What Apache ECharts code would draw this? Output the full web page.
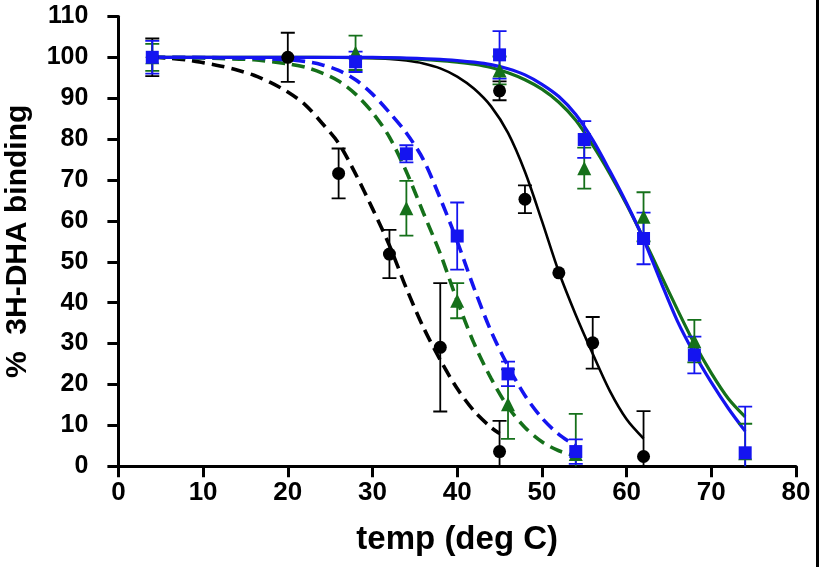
<!DOCTYPE html>
<html>
<head>
<meta charset="utf-8">
<script src="https://cdn.jsdelivr.net/npm/echarts@6/dist/echarts.min.js"></script>
<style>
html,body{margin:0;padding:0;background:#fff;}
#chart{width:819px;height:567px;}
</style>
</head>
<body>
<div id="chart"></div>
<script>
// ---------- measured points (temp, % binding, error) ----------
const blackSolidT = [4, 20, 45, 48, 52, 56, 62];
const blackSolidY = [100, 100, 91.8, 65.3, 47.3, 30.2, 2.4];
const blackSolidE = [4.6, 6, 2.3, 3.4, 0, 6.3, 11.1];

const blackDashT = [26, 32, 38, 45];
const blackDashY = [71.6, 51.9, 29.1, 3.6];
const blackDashE = [6.1, 5.9, 15.7, 7.5];

const greenSolidT = [4, 28, 45, 55, 62, 68, 74];
const greenSolidY = [100, 101.1, 96.8, 72.9, 61, 30.6, 3.2];
const greenSolidE = [3.3, 4.2, 3.4, 5, 6, 5.2, 7.2];

const greenDashT = [34, 40, 46, 54];
const greenDashY = [63.1, 40.5, 15.2, 3.0];
const greenDashE = [6.7, 4.3, 8.5, 9.8];

const blueSolidT = [4, 28, 45, 55, 62, 68, 74];
const blueSolidY = [100, 98.9, 100.6, 79.9, 55.7, 27.2, 3.3];
const blueSolidE = [4, 2.5, 5.8, 4.5, 6.3, 4.5, 11.3];

const blueDashT = [34, 40, 46, 54];
const blueDashY = [76.4, 56.3, 22.6, 3.6];
const blueDashE = [2.1, 8.2, 3, 3];

// ---------- fitted curves ----------
const blackDashCurveX = [4, 6, 8, 10, 12, 14, 16, 18, 20, 22, 24, 26, 28, 30, 32, 34, 36, 38, 40, 42, 44, 45];
const blackDashCurveY = [100, 99.8, 99.4, 98.7, 97.9, 96.9, 95.6, 93.8, 91.5, 88.5, 84, 79, 71.5, 63, 54, 43.5, 34, 26, 19, 13.5, 9.5, 8];

const greenDashCurveX = [4, 8, 12, 16, 20, 22, 24, 26, 28, 30, 32, 34, 36, 38, 40, 42, 44, 46, 48, 50, 52, 54];
const greenDashCurveY = [100, 99.9, 99.7, 99.4, 98.4, 97.6, 96.2, 94.2, 91, 86.5, 80.5, 72, 62, 52, 40.5, 30, 21.5, 14.5, 9.5, 6, 3.8, 2.5];

const blueDashCurveX = [4, 8, 12, 16, 20, 22, 24, 26, 28, 30, 32, 34, 36, 38, 40, 42, 44, 46, 48, 50, 52, 54];
const blueDashCurveY = [100, 100, 99.9, 99.8, 99.4, 99, 98.2, 96.8, 94.5, 91, 86.5, 81.5, 75, 65.5, 55, 43.5, 33, 24.5, 17.3, 11.8, 7.8, 5];

const blackSolidCurveX = [4, 12, 20, 26, 30, 32, 34, 36, 38, 40, 42, 44, 46, 48, 50, 52, 54, 56, 58, 60, 62];
const blackSolidCurveY = [100, 100, 100, 99.9, 99.8, 99.6, 99.2, 98.5, 97.3, 95.3, 92.3, 88, 81.5, 72, 60, 47.5, 37, 27.5, 18.5, 11.5, 6.8];

const blueSolidCurveX = [4, 12, 20, 26, 30, 34, 38, 40, 42, 44, 46, 48, 50, 52, 54, 56, 58, 60, 62, 64, 66, 68, 70, 72, 74];
const blueSolidCurveY = [100, 100, 100, 100, 100, 99.8, 99.5, 99.2, 98.8, 98.2, 97.2, 95.7, 93.4, 90.4, 86, 79.8, 72.3, 64.3, 55.5, 45.3, 35.5, 27.5, 20.5, 14.2, 8.6];

const greenSolidCurveX = [4, 12, 20, 26, 30, 34, 38, 40, 42, 44, 46, 48, 50, 52, 54, 56, 58, 60, 62, 64, 66, 68, 70, 72, 74];
const greenSolidCurveY = [100, 100, 100, 99.95, 99.9, 99.7, 99.2, 98.8, 98.3, 97.5, 96.2, 94.5, 92.2, 89, 84.6, 78.5, 71.6, 64, 55.7, 47, 38.3, 30, 22.8, 16.6, 12.1];

// ---------- axis ----------
const xMin = 0, xMax = 80, xStep = 10;
const yMin = 0, yMax = 110, yStep = 10;
const xTitle = 'temp (deg C)';
const yTitle = '%  3H-DHA binding';

// ---------- styles ----------
const BLACK = '#000000';
const GREEN = '#15701a';
const BLUE = '#1414f0';
const FONT = 'Liberation Sans';

const zip2 = (a, b) => a.map((v, i) => [v, b[i]]);
const zip3 = (a, b, c) => a.map((v, i) => [v, b[i], c[i]]);

function curve(name, xs, ys, color, dashed, width) {
  return {
    type: 'line', name: name, data: zip2(xs, ys), smooth: 0.3,
    symbol: 'none', z: 2, silent: true,
    lineStyle: { color: color, width: width, type: dashed ? [13, 7] : 'solid', cap: 'butt' }
  };
}
function errBars(name, t, y, e, color, z) {
  return {
    type: 'custom', name: name, data: zip3(t, y, e), z: z, clip: true, silent: true,
    renderItem: function (params, api) {
      const x = api.value(0), v = api.value(1), er = api.value(2);
      if (!er) return { type: 'group', children: [] };
      const top = api.coord([x, v + er]);
      const bot = api.coord([x, v - er]);
      const hw = 7;
      const st = { stroke: color, lineWidth: 1.8 };
      return {
        type: 'group', children: [
          { type: 'line', shape: { x1: top[0], y1: top[1], x2: bot[0], y2: bot[1] }, style: st },
          { type: 'line', shape: { x1: top[0] - hw, y1: top[1], x2: top[0] + hw, y2: top[1] }, style: st },
          { type: 'line', shape: { x1: bot[0] - hw, y1: bot[1], x2: bot[0] + hw, y2: bot[1] }, style: st }
        ]
      };
    }
  };
}
function marks(name, t, y, color, symbol, size, z) {
  return {
    type: 'scatter', name: name, data: zip2(t, y), symbol: symbol, symbolSize: size, z: z,
    itemStyle: { color: color, opacity: 1 }, silent: true
  };
}

const chart = echarts.init(document.getElementById('chart'), null, { renderer: 'canvas' });
chart.setOption({
  animation: false,
  backgroundColor: '#ffffff',
  grid: { left: 118.4, right: 23, top: 16.4, bottom: 100.7, containLabel: false, outerBoundsMode: 'none' },
  xAxis: {
    type: 'value', min: xMin, max: xMax, interval: xStep,
    name: xTitle, nameLocation: 'middle', nameGap: 57,
    nameTextStyle: { fontFamily: FONT, fontWeight: 'bold', fontSize: 33, color: '#000' },
    axisLine: { onZero: false, lineStyle: { color: '#000', width: 3 } },
    axisTick: { inside: false, length: 11, lineStyle: { color: '#000', width: 3 } },
    axisLabel: { margin: 14, fontFamily: FONT, fontWeight: 'bold', fontSize: 26, color: '#000' },
    splitLine: { show: false }
  },
  yAxis: {
    type: 'value', min: yMin, max: yMax, interval: yStep,
    name: yTitle, nameLocation: 'middle', nameGap: 86, nameRotate: 90,
    nameTextStyle: { fontFamily: FONT, fontWeight: 'bold', fontSize: 30, color: '#000' },
    axisLine: { onZero: false, lineStyle: { color: '#000', width: 3 } },
    axisTick: { inside: false, length: 11, lineStyle: { color: '#000', width: 3 } },
    axisLabel: { margin: 30, fontFamily: FONT, fontWeight: 'bold', fontSize: 25, color: '#000' },
    splitLine: { show: false }
  },
  graphic: [
    { type: 'rect', right: 0, top: 0, shape: { width: 3, height: 567 }, style: { fill: '#000' } }
  ],
  series: [
    curve('black dashed fit', blackDashCurveX, blackDashCurveY, BLACK, true, 3.6),
    curve('green dashed fit', greenDashCurveX, greenDashCurveY, GREEN, true, 3.6),
    curve('blue dashed fit', blueDashCurveX, blueDashCurveY, BLUE, true, 3.6),
    curve('black fit', blackSolidCurveX, blackSolidCurveY, BLACK, false, 2.6),
    curve('green fit', greenSolidCurveX, greenSolidCurveY, GREEN, false, 3.2),
    curve('blue fit', blueSolidCurveX, blueSolidCurveY, BLUE, false, 3.2),
    errBars('black err', blackSolidT, blackSolidY, blackSolidE, BLACK, 3),
    errBars('black dashed err', blackDashT, blackDashY, blackDashE, BLACK, 3),
    errBars('green err', greenSolidT, greenSolidY, greenSolidE, GREEN, 3),
    errBars('green dashed err', greenDashT, greenDashY, greenDashE, GREEN, 3),
    errBars('blue err', blueSolidT, blueSolidY, blueSolidE, BLUE, 3),
    errBars('blue dashed err', blueDashT, blueDashY, blueDashE, BLUE, 3),
    marks('black', blackSolidT, blackSolidY, BLACK, 'circle', 13, 4),
    marks('black dashed', blackDashT, blackDashY, BLACK, 'circle', 13, 4),
    marks('green', greenSolidT, greenSolidY, GREEN, 'triangle', 14, 4),
    marks('green dashed', greenDashT, greenDashY, GREEN, 'triangle', 14, 4),
    marks('blue', blueSolidT, blueSolidY, BLUE, 'rect', 13, 5),
    marks('blue dashed', blueDashT, blueDashY, BLUE, 'rect', 13, 5)
  ]
});
</script>
</body>
</html>
